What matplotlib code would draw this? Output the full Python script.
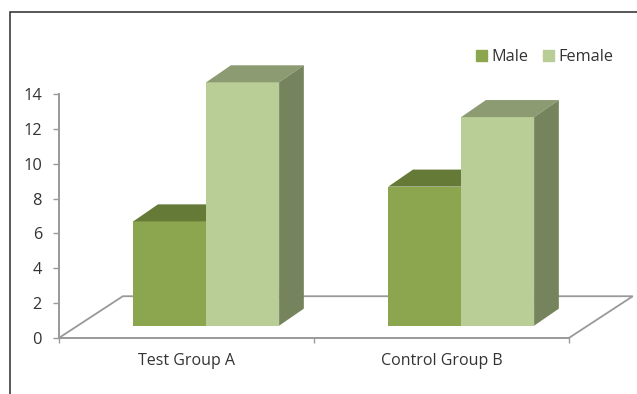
import matplotlib
matplotlib.use('Agg')
import matplotlib.pyplot as plt
from matplotlib.lines import Line2D
from matplotlib.patches import Polygon

categories = ['Test Group A', 'Control Group B']
male = [6, 8]
female = [14, 12]
y_ticks = [0, 2, 4, 6, 8, 10, 12, 14]

W, H = 637, 394
plt.rcParams['font.family'] = ['Open Sans', 'DejaVu Sans']

fig = plt.figure(figsize=(W / 100, H / 100), dpi=100)
# axes box in pixels: x 59..569, y 94..337.7
ax = fig.add_axes([59.3 / W, 1 - 337.7 / H, 510 / W, 243.4 / H])
ax.set_xlim(0, 2)
ax.set_ylim(0, 14)
ax.patch.set_alpha(0)

# 3d look, in data units
bar_w = 0.286
first = 0.29       # gap from the group's left edge to the first bar
base = 0.69        # front faces stand above the axis
dx = 0.097         # depth to the right
dy = 0.98          # depth upwards
floor_dx = 0.249
floor_dy = 2.385

grey = '#999999'


def box(left, value, front, top, side):
    ax.bar(left, value, bar_w, bottom=base, align='edge', color=front,
           edgecolor='none', zorder=3, clip_on=False)
    right = left + bar_w
    up = base + value
    ax.add_patch(Polygon([(left, up), (left + dx, up + dy), (right + dx, up + dy), (right, up)],
                         color=top, lw=0, zorder=3, clip_on=False))
    ax.add_patch(Polygon([(right, base), (right + dx, base + dy), (right + dx, up + dy), (right, up)],
                         color=side, lw=0, zorder=3, clip_on=False))


for i in range(len(categories)):
    box(i + first, male[i], '#8ba64e', '#667a37', '#6d8040')
    box(i + first + bar_w, female[i], '#b9cd96', '#8d9b73', '#76845d')

# floor outline behind the bars
ax.plot([0, floor_dx, 2 + floor_dx, 2], [0, floor_dy, floor_dy, 0], color=grey, lw=1.3,
        clip_on=False, zorder=1, solid_joinstyle='miter')

for name in ['top', 'right']:
    ax.spines[name].set_visible(False)
for name in ['left', 'bottom']:
    ax.spines[name].set_color(grey)
    ax.spines[name].set_linewidth(1.4)

ax.set_yticks(y_ticks)
ax.set_xticks([0, 1, 2])
ax.set_xticks([0.5, 1.5], categories, minor=True)
ax.set_xticklabels([])
ax.tick_params(axis='y', length=4, width=1, color=grey, labelsize=11.8, labelcolor='#333333', pad=8.5)
ax.tick_params(axis='x', which='major', length=3.5, width=1, color=grey)
ax.tick_params(axis='x', which='minor', length=0, labelsize=11.5, labelcolor='#333333', pad=11)

handles = [plt.Rectangle((0, 0), 1, 1, color='#8ba64e'),
           plt.Rectangle((0, 0), 1, 1, color='#b9cd96')]
fig.legend(handles, ['Male', 'Female'], ncol=2, frameon=False, fontsize=11.7,
           labelcolor='#333333', loc='center right', bbox_to_anchor=(613.5 / W, 1 - 57 / H),
           handlelength=0.68, handleheight=0.68, handletextpad=0.3, columnspacing=0.85,
           borderpad=0, borderaxespad=0)

# outer frame, open at the right and the bottom
fig.add_artist(Line2D([10 / W, 10 / W, 1], [0, 1 - 12 / H, 1 - 12 / H], color='#2a2a2a', lw=1.1,
                      solid_joinstyle='miter'))

fig.savefig('out.png', dpi=100)
